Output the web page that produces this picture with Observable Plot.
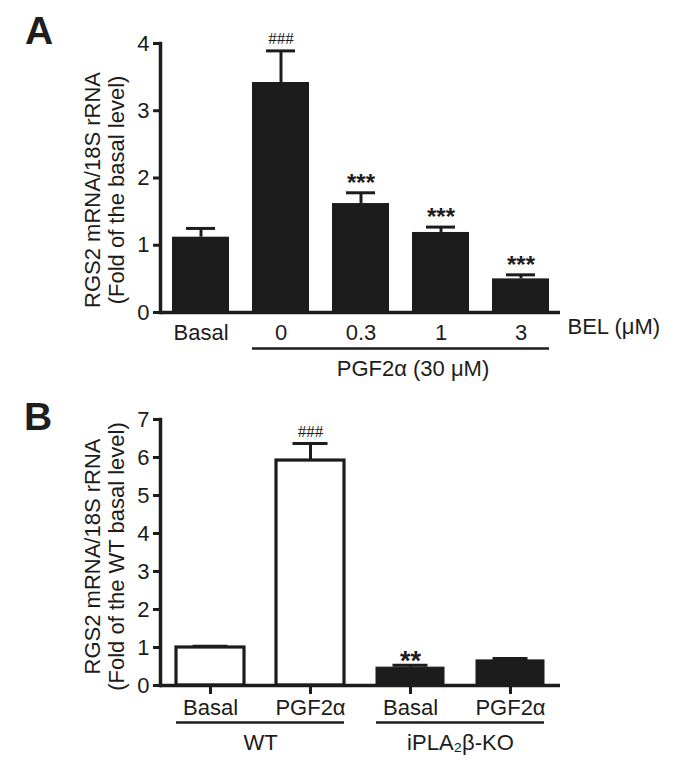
<!DOCTYPE html>
<html>
<head>
<meta charset="utf-8">
<script src="https://cdn.jsdelivr.net/npm/d3@7"></script>
<script src="https://cdn.jsdelivr.net/npm/@observablehq/plot@0.6"></script>
<style>
  html, body { margin: 0; padding: 0; background: #fff; }
  #wrap { position: relative; width: 680px; height: 773px; background: #fff; overflow: hidden;
          font-family: "Liberation Sans", Arial, Helvetica, sans-serif; color: #1e1e1e; }
  .panel { position: absolute; font-size: 39px; font-weight: bold; line-height: 39px; }
  #a { position: absolute; left: 0; top: 0; }
  #b { position: absolute; left: 0; top: 390px; }
</style>
</head>
<body>
<div id="wrap">
  <div id="a"></div>
  <div id="b"></div>
  <div class="panel" style="left:25px; top:11px;">A</div>
  <div class="panel" style="left:24px; top:397px;">B</div>
</div>
<script>
// ---------- Panel A data ----------
const condA  = ["Basal", "0", "0.3", "1", "3"];
const valueA = [1.12, 3.42, 1.62, 1.19, 0.50];
const errA   = [0.13, 0.47, 0.16, 0.08, 0.06];
const markA  = ["", "###", "***", "***", "***"];
const yTicksA = [0, 1, 2, 3, 4];
const titleA = "RGS2 mRNA/18S rRNA\n(Fold of the basal level)";
const bracketA = ["0", "3"];
const bracketLabelA = "PGF2α (30 μM)";
const xUnitA = "BEL (μM)";

// ---------- Panel B data ----------
const groupsB = ["WT", "iPLA₂β-KO"];
const groupB  = ["WT", "WT", "iPLA₂β-KO", "iPLA₂β-KO"];
const condB   = ["Basal", "PGF2α", "Basal", "PGF2α"];
const valueB  = [1.00, 5.92, 0.47, 0.66];
const errB    = [0.03, 0.45, 0.06, 0.05];
const markB   = ["", "###", "**", ""];
const yTicksB = [0, 1, 2, 3, 4, 5, 6, 7];
const titleB = "RGS2 mRNA/18S rRNA\n(Fold of the WT basal level)";

const INK = "#1c1c1c";
const FONT = "'Liberation Sans', Arial, Helvetica, sans-serif";
const FS = "22px";

const dataA = condA.map((c, i) => ({cond: c, value: valueA[i], err: errA[i], mark: markA[i]}));
const dataB = condB.map((c, i) => ({group: groupB[i], cond: c, value: valueB[i], err: errB[i], mark: markB[i]}));

// ---------- Chart A ----------
const chartA = Plot.plot({
  width: 680, height: 390,
  marginLeft: 160, marginRight: 120, marginTop: 43, marginBottom: 78,
  style: {fontFamily: FONT, fontSize: FS, color: INK, background: "white", overflow: "visible"},
  x: {domain: condA, paddingInner: 0.2875, paddingOuter: 0.14375},
  y: {domain: [0, 4]},
  marks: [
    Plot.barY(dataA, {x: "cond", y: "value", fill: INK}),
    Plot.ruleX(dataA, {x: "cond", y1: "value", y2: d => d.value + d.err, stroke: INK, strokeWidth: 3}),
    Plot.tickY(dataA, {x: "cond", y: d => d.value + d.err, stroke: INK, strokeWidth: 3, insetLeft: 14, insetRight: 14}),
    Plot.text(dataA.filter(d => d.mark.startsWith("#")), {
      x: "cond", y: d => d.value + d.err, text: "mark", lineAnchor: "bottom", dy: -7,
      fontFamily: "'Liberation Serif', serif", fontSize: 17, fill: INK
    }),
    Plot.text(dataA.filter(d => d.mark.startsWith("*")), {
      x: "cond", y: d => d.value + d.err, text: "mark", lineAnchor: "bottom", dy: -2,
      fontWeight: "bold", fontSize: 24, fill: INK
    }),
    Plot.frame({anchor: "left", stroke: INK, strokeWidth: 3.5}),
    Plot.ruleY([0], {stroke: INK, strokeWidth: 3.5}),
    Plot.axisY(yTicksA, {tickSize: 7, tickPadding: 4, strokeWidth: 3, stroke: INK, fill: INK, label: null, tickFormat: d => String(d)}),
    Plot.axisX({tickSize: 0, tickPadding: 12, label: null, fill: INK}),
    Plot.ruleY([0], {x1: () => bracketA[0], x2: () => bracketA[1], dy: 36, stroke: INK, strokeWidth: 2.5}),
    Plot.text([bracketLabelA], {x: () => "0.3", y: () => 0, text: d => d, dx: 52, dy: 56, fill: INK}),
    Plot.text([xUnitA], {frameAnchor: "bottom-right", textAnchor: "start", text: d => d, dx: 7, dy: 21, fill: INK}),
    Plot.text([titleA], {frameAnchor: "left", textAnchor: "middle", lineAnchor: "middle", rotate: -90, text: d => d, dx: -56, dy: 12, lineHeight: 1.1, fill: INK})
  ]
});
document.getElementById("a").append(chartA);

// ---------- Chart B ----------
const chartB = Plot.plot({
  width: 680, height: 383,
  marginLeft: 160, marginRight: 120, marginTop: 29, marginBottom: 88,
  style: {fontFamily: FONT, fontSize: FS, color: INK, background: "white", overflow: "visible"},
  fx: {domain: groupsB, padding: 0},
  x: {domain: ["Basal", "PGF2α"], paddingInner: 0.32, paddingOuter: 0.16},
  y: {domain: [0, 7]},
  marks: [
    Plot.ruleX(dataB, {fx: "group", x: "cond", y1: "value", y2: d => d.value + d.err, stroke: INK, strokeWidth: 3}),
    Plot.tickY(dataB, {fx: "group", x: "cond", y: d => d.value + d.err, stroke: INK, strokeWidth: 3, insetLeft: 16.5, insetRight: 16.5}),
    Plot.barY(dataB.filter(d => d.group === "WT"), {fx: "group", x: "cond", y: "value", fill: "white", stroke: INK, strokeWidth: 3.2}),
    Plot.barY(dataB.filter(d => d.group !== "WT"), {fx: "group", x: "cond", y: "value", fill: INK, stroke: INK, strokeWidth: 1}),
    Plot.text(dataB.filter(d => d.mark.startsWith("#")), {
      fx: "group", x: "cond", y: d => d.value + d.err, text: "mark", lineAnchor: "bottom", dy: -6,
      fontFamily: "'Liberation Serif', serif", fontSize: 17, fill: INK
    }),
    Plot.text(dataB.filter(d => d.mark.startsWith("*")), {
      fx: "group", x: "cond", y: d => d.value + d.err, text: "mark", lineAnchor: "bottom", dy: 5,
      fontWeight: "bold", fontSize: 27, fill: INK
    }),
    Plot.frame({anchor: "left", stroke: INK, strokeWidth: 3.5, facetAnchor: "left"}),
    Plot.ruleY([0], {stroke: INK, strokeWidth: 3.5}),
    Plot.axisY(yTicksB, {tickSize: 7, tickPadding: 4, strokeWidth: 3, stroke: INK, fill: INK, label: null, tickFormat: d => String(d)}),
    Plot.axisX({tickSize: 9, tickPadding: 5, strokeWidth: 3, stroke: INK, fill: INK, label: null}),
    Plot.axisFx({anchor: "bottom", tickSize: 0, tickPadding: 49, label: null, fill: INK}),
    Plot.ruleY(groupsB, {fx: d => d, y: 0, x1: () => "Basal", x2: () => "PGF2α", dy: 37, stroke: INK, strokeWidth: 2.5}),
    Plot.text([titleB], {frameAnchor: "left", textAnchor: "middle", lineAnchor: "middle", rotate: -90, text: d => d, dx: -56, dy: 4, lineHeight: 1.1, fill: INK, facetAnchor: "left"})
  ]
});
document.getElementById("b").append(chartB);
</script>
</body>
</html>
